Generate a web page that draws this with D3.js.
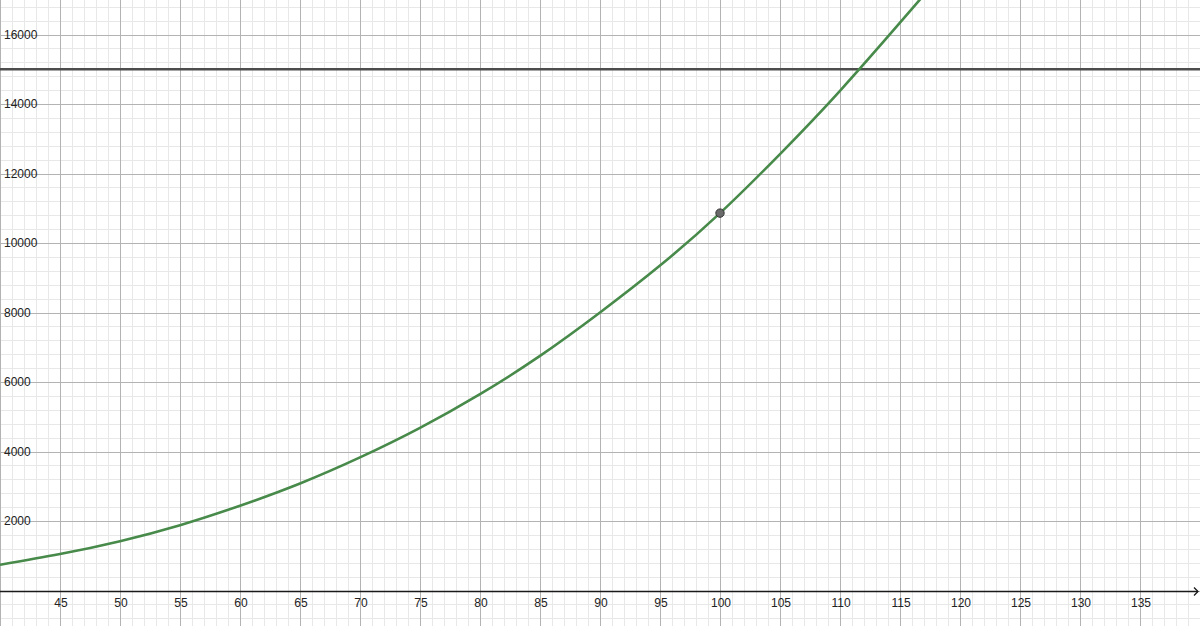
<!DOCTYPE html>
<html>
<head>
<meta charset="utf-8">
<script src="https://cdn.jsdelivr.net/npm/d3@7"></script>
<style>
    body { margin: 0; background: #ffffff; }
    text { font-family: "Liberation Sans", Arial, sans-serif; font-size: 12px; fill: #222; }
</style>
</head>
<body>
<div id="graphBlock"></div>
<script>
// values
var curveX = [40, 45, 50, 55, 60, 65, 70, 75, 80, 85, 90, 95, 100, 105, 110, 115, 117];
var curveY = [740, 1050, 1420, 1880, 2440, 3080, 3830, 4680, 5650, 6750, 8000, 9350, 10860, 12560, 14380, 16340, 17140];

var xTickLabels = [45, 50, 55, 60, 65, 70, 75, 80, 85, 90, 95, 100, 105, 110, 115, 120, 125, 130, 135];
var yTickLabels = [2000, 4000, 6000, 8000, 10000, 12000, 14000, 16000];

var limitY = [15000];
var pointX = [100],
    pointY = [10860];

var w = 1200,
    h = 626;

var canvas = d3.select("#graphBlock")
    .append("svg")
    .attr("width", w)
    .attr("height", h)
    .style("background", "#ffffff");

// Setting the scales (x: 12px per unit, y: 2000 per 69.5px)
var xScale = d3.scaleLinear()
    .domain([40, 140])
    .range([0, w]);

var yScale = d3.scaleLinear()
    .domain([0, 16000])
    .range([590.5, 34.5]);

// minor grid
canvas.append("g")
    .selectAll("line")
    .data(d3.range(40, 141, 1))
    .enter()
    .append("line")
    .attr("x1", function (d) { return Math.round(xScale(d)) + 0.5; })
    .attr("x2", function (d) { return Math.round(xScale(d)) + 0.5; })
    .attr("y1", 0)
    .attr("y2", h)
    .attr("stroke", "#e8e8e8")
    .attr("stroke-width", 1);

canvas.append("g")
    .selectAll("line")
    .data(d3.range(-1200, 17200, 400))
    .enter()
    .append("line")
    .attr("x1", 0)
    .attr("x2", w)
    .attr("y1", function (d) { return Math.round(yScale(d)) + 0.5; })
    .attr("y2", function (d) { return Math.round(yScale(d)) + 0.5; })
    .attr("stroke", "#e8e8e8")
    .attr("stroke-width", 1);

// major grid
canvas.append("g")
    .selectAll("line")
    .data(d3.range(40, 141, 5))
    .enter()
    .append("line")
    .attr("x1", function (d) { return Math.round(xScale(d)) + 0.5; })
    .attr("x2", function (d) { return Math.round(xScale(d)) + 0.5; })
    .attr("y1", 0)
    .attr("y2", h)
    .attr("stroke", "#b3b3b3")
    .attr("stroke-width", 1);

canvas.append("g")
    .selectAll("line")
    .data(d3.range(-2000, 18001, 2000))
    .enter()
    .append("line")
    .attr("x1", 0)
    .attr("x2", w)
    .attr("y1", function (d) { return Math.round(yScale(d)) + 0.5; })
    .attr("y2", function (d) { return Math.round(yScale(d)) + 0.5; })
    .attr("stroke", "#b3b3b3")
    .attr("stroke-width", 1);

// x axis with open arrow
var axisY = Math.round(yScale(0)) + 0.5;
canvas.append("line")
    .attr("x1", 0)
    .attr("x2", w - 2)
    .attr("y1", axisY)
    .attr("y2", axisY)
    .attr("stroke", "#1a1a1a")
    .attr("stroke-width", 1.3);

canvas.append("path")
    .attr("d", ["M", w - 6, axisY - 4, "L", w - 2, axisY, "L", w - 6, axisY + 4].join(" "))
    .attr("fill", "none")
    .attr("stroke", "#1a1a1a")
    .attr("stroke-width", 1.3);

// tick labels
canvas.selectAll("xLabels")
    .data(xTickLabels)
    .enter()
    .append("text")
    .attr("x", function (d) { return xScale(d) + 1; })
    .attr("y", 607)
    .style("text-anchor", "middle")
    .text(function (d) { return d; });

canvas.selectAll("yLabels")
    .data(yTickLabels)
    .enter()
    .append("text")
    .attr("x", 4)
    .attr("y", function (d) { return yScale(d) + 4; })
    .style("text-anchor", "start")
    .text(function (d) { return d; });

// horizontal limit line
canvas.selectAll("limitLine")
    .data(limitY)
    .enter()
    .append("line")
    .attr("x1", 0)
    .attr("x2", w)
    .attr("y1", function (d) { return yScale(d); })
    .attr("y2", function (d) { return yScale(d); })
    .attr("stroke", "#4d4d4d")
    .attr("stroke-width", 2.6);

// the curve
var line = d3.line()
    .x(function (d) { return xScale(d[0]); })
    .y(function (d) { return yScale(d[1]); })
    .curve(d3.curveNatural);

canvas.append("path")
    .datum(d3.zip(curveX, curveY))
    .attr("d", line)
    .style("fill", "none")
    .attr("stroke", "#478a4a")
    .attr("stroke-width", 2.6);

// the point
canvas.selectAll("myPoint")
    .data(d3.zip(pointX, pointY))
    .enter()
    .append("circle")
    .attr("cx", function (d) { return xScale(d[0]); })
    .attr("cy", function (d) { return yScale(d[1]); })
    .attr("r", 4.2)
    .style("fill", "#6a6a6a")
    .style("stroke", "#333333")
    .style("stroke-width", 1);
</script>
</body>
</html>
